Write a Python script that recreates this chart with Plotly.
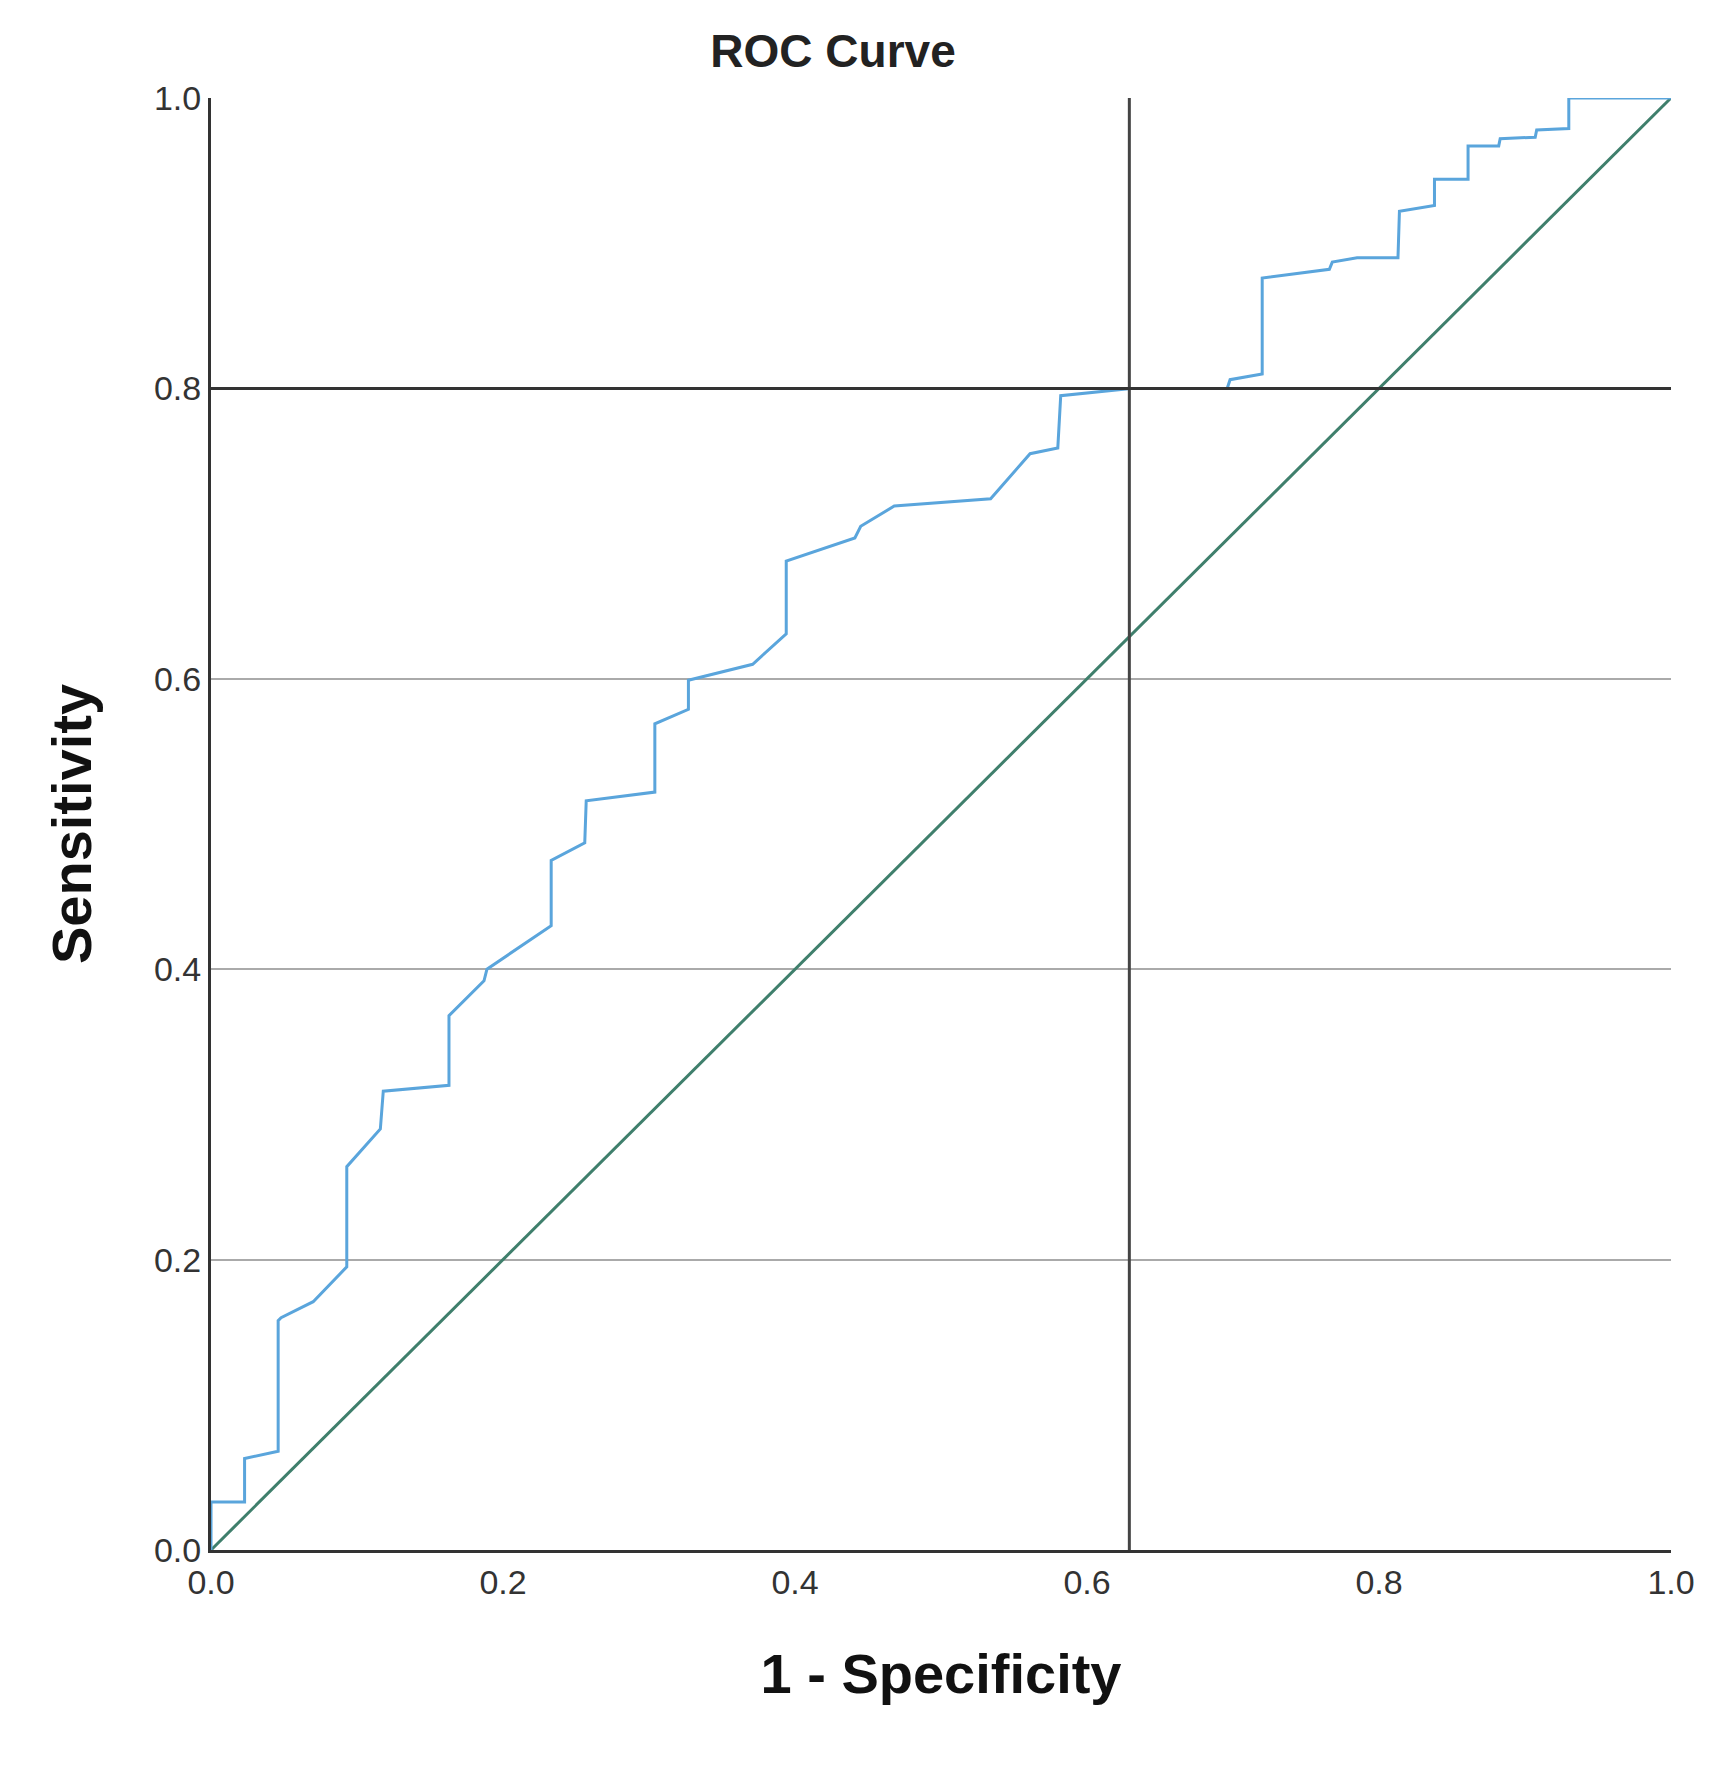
import plotly.graph_objects as go

# ROC curve points
fpr = [0.0, 0.0, 0.023, 0.023, 0.046, 0.046, 0.048, 0.070, 0.093, 0.093, 0.116, 0.118,
       0.163, 0.163, 0.187, 0.189, 0.233, 0.233, 0.256, 0.257, 0.304, 0.304, 0.327,
       0.327, 0.371, 0.394, 0.394, 0.441, 0.445, 0.468, 0.534, 0.557, 0.561, 0.580,
       0.582, 0.630, 0.696, 0.698, 0.720, 0.720, 0.766, 0.768, 0.785, 0.813, 0.814,
       0.838, 0.838, 0.861, 0.861, 0.882, 0.883, 0.907, 0.908, 0.930, 0.930, 1.0]
tpr = [0.0, 0.033, 0.033, 0.063, 0.068, 0.158, 0.160, 0.171, 0.195, 0.264, 0.290, 0.316,
       0.320, 0.368, 0.392, 0.400, 0.430, 0.475, 0.487, 0.516, 0.522, 0.569, 0.579,
       0.599, 0.610, 0.631, 0.681, 0.697, 0.705, 0.719, 0.724, 0.751, 0.755, 0.759,
       0.795, 0.800, 0.800, 0.806, 0.810, 0.876, 0.882, 0.887, 0.890, 0.890, 0.922,
       0.926, 0.944, 0.944, 0.967, 0.967, 0.972, 0.973, 0.978, 0.979, 1.0, 1.0]
diag = [0.0, 1.0]
cut_x = 0.629
cut_y = 0.8
ticks = [0.0, 0.2, 0.4, 0.6, 0.8, 1.0]

font = "Liberation Sans, Arial, sans-serif"

fig = go.Figure()
fig.add_trace(go.Scatter(x=diag, y=diag, mode="lines",
                         line=dict(color="#3f7f6c", width=3), showlegend=False))
fig.add_trace(go.Scatter(x=fpr, y=tpr, mode="lines",
                         line=dict(color="#5aa5dc", width=3), showlegend=False))
fig.add_trace(go.Scatter(x=[cut_x, cut_x], y=[0, 1], mode="lines",
                         line=dict(color="#444444", width=3), showlegend=False))
fig.add_trace(go.Scatter(x=[0, 1], y=[cut_y, cut_y], mode="lines",
                         line=dict(color="#333333", width=3), showlegend=False))

fig.update_layout(
    width=1726, height=1772,
    plot_bgcolor="white", paper_bgcolor="white",
    margin=dict(l=203, r=63, t=90, b=230),
    font=dict(family=font, color="#222222"),
    title=dict(text="<b>ROC Curve</b>", x=0.478, xanchor="center", y=0.985, yanchor="top",
               font=dict(size=46, color="#222222")),
    xaxis=dict(range=[0, 1], tickvals=ticks, tickformat=".1f",
               tickfont=dict(size=34, color="#333333"), showgrid=False, zeroline=False,
               showline=True, linecolor="#333333", linewidth=3, ticks="",
               title=dict(text="<b>1 - Specificity</b>", font=dict(size=56, color="#111111"),
                          standoff=55)),
    yaxis=dict(range=[0, 1], tickvals=ticks, tickformat=".1f",
               tickfont=dict(size=34, color="#333333"), showgrid=True,
               gridcolor="#aaaaaa", gridwidth=2, zeroline=False,
               showline=True, linecolor="#333333", linewidth=3, ticks="",
               title=dict(text="<b>Sensitivity</b>", font=dict(size=56, color="#111111"),
                          standoff=45)),
)

fig.write_html("out.html")
